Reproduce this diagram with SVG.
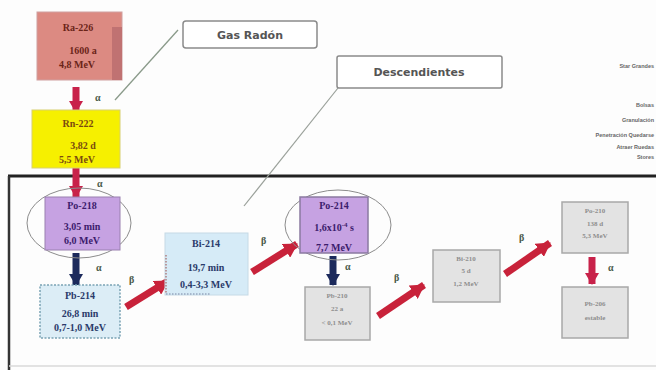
<svg xmlns="http://www.w3.org/2000/svg" width="656" height="370" viewBox="0 0 656 370">
<defs>
<style>
.bt{font-family:"Liberation Serif","Times New Roman",serif;font-weight:bold;font-size:10px;text-anchor:middle}
.gt{font-family:"Liberation Serif","Times New Roman",serif;font-weight:bold;font-size:7px;text-anchor:middle;fill:#8e8e8e}
.lbl{font-family:"Liberation Serif","Times New Roman",serif;font-weight:bold;font-size:10px;fill:#4a5a4a}
.tag{font-family:"DejaVu Sans","Noto Sans",sans-serif;font-weight:bold;font-size:11px;fill:#555;text-anchor:middle}
.tagbox{fill:#fff;stroke:#8a8a8a;stroke-width:1.5}
.gray{fill:#e3e3e3;stroke:#a8a8a8;stroke-width:1.5}
.ell{fill:none;stroke:#8c8c8c;stroke-width:1}
.side{font-family:"Liberation Sans",Arial,sans-serif;font-weight:bold;font-size:5.5px;fill:#666;text-anchor:end}
.red{stroke:#c8223a;stroke-width:7;fill:none}
.navy{stroke:#1c2a5c;stroke-width:7;fill:none}
.crim{stroke:#c8224a;stroke-width:7;fill:none}
</style>
<marker id="hr" markerUnits="userSpaceOnUse" markerWidth="16" markerHeight="16" refX="13" refY="8" orient="auto"><path d="M0,0 L14,8 L0,16 z" fill="#c8223a"/></marker>
<marker id="hn" markerUnits="userSpaceOnUse" markerWidth="16" markerHeight="14" refX="11" refY="7" orient="auto"><path d="M0,0 L12,7 L0,14 z" fill="#1c2a5c"/></marker>
<marker id="hc" markerUnits="userSpaceOnUse" markerWidth="16" markerHeight="14" refX="11" refY="7" orient="auto"><path d="M0,0 L12,7 L0,14 z" fill="#c8224a"/></marker>
</defs>
<rect width="656" height="370" fill="#fdfdfd"/>

<!-- frame -->
<g id="frame">
<line x1="8" y1="176" x2="656" y2="176" stroke="#222" stroke-width="3"/>
<line x1="9" y1="176" x2="9" y2="370" stroke="#333" stroke-width="2.5"/>
<line x1="9" y1="366" x2="656" y2="366" stroke="#d8d8d8" stroke-width="1.5"/>
</g>

<!-- side texts -->
<g id="side-text">
<text class="side" x="654" y="68">Star Grandes</text>
<text class="side" x="654" y="107" fill="#999">Bolsas</text>
<text class="side" x="654" y="122">Granulación</text>
<text class="side" x="654" y="137">Penetración Quedarse</text>
<text class="side" x="654" y="149">Atraer Ruedas</text>
<text class="side" x="654" y="159">Stores</text>
</g>

<!-- connectors -->
<g id="connectors">
<line x1="115" y1="100" x2="178" y2="30" stroke="#8a9a8a" stroke-width="1.3"/>
<line x1="338" y1="88" x2="244" y2="206" stroke="#9aa09a" stroke-width="1.2"/>
<line class="crim" x1="76" y1="87" x2="76" y2="112" marker-end="url(#hc)"/>
<line class="crim" x1="76" y1="167" x2="76" y2="197" marker-end="url(#hc)"/>
<line class="navy" x1="76" y1="253" x2="76" y2="285" marker-end="url(#hn)"/>
<line class="red" x1="126" y1="307" x2="168" y2="281" marker-end="url(#hr)"/>
<line class="red" x1="252" y1="272" x2="297" y2="244" marker-end="url(#hr)"/>
<line class="navy" x1="333" y1="256" x2="333" y2="285" marker-end="url(#hn)"/>
<line class="red" x1="378" y1="316" x2="424" y2="285" marker-end="url(#hr)"/>
<line class="red" x1="505" y1="274" x2="550" y2="243" marker-end="url(#hr)"/>
<line class="crim" x1="592" y1="257" x2="592" y2="284" marker-end="url(#hc)"/>
<text class="lbl" x="95" y="101">α</text>
<text class="lbl" x="97" y="187">α</text>
<text class="lbl" x="96" y="271">α</text>
<text class="lbl" x="129" y="283">β</text>
<text class="lbl" x="261" y="244">β</text>
<text class="lbl" x="345" y="270">α</text>
<text class="lbl" x="394" y="281">β</text>
<text class="lbl" x="519" y="241">β</text>
<text class="lbl" x="608" y="271">α</text>
</g>

<g id="gas-radon">
<rect class="tagbox" x="183" y="21" width="134" height="27" rx="3"/>
<text class="tag" x="250" y="39">Gas Radón</text>
</g>
<g id="descendientes">
<rect class="tagbox" x="337" y="56" width="165" height="32" rx="2"/>
<text class="tag" x="419" y="76">Descendientes</text>
</g>

<g id="ra226">
<rect x="37" y="12" width="85" height="68" fill="#dc8a82" stroke="#d0a0a0" stroke-width="1"/>
<rect x="112" y="27" width="10" height="53" fill="#c07272"/>
<text class="bt" x="78" y="31" fill="#6b2418">Ra-226</text>
<text class="bt" x="83" y="54" fill="#6b2418">1600 a</text>
<text class="bt" x="77" y="68" fill="#6b2418">4,8  MeV</text>
</g>

<g id="rn222">
<rect x="32" y="110" width="88" height="58" fill="#f6f000" stroke="#d8d070" stroke-width="1"/>
<text class="bt" x="78" y="127" fill="#7a4a10">Rn-222</text>
<text class="bt" x="83" y="149" fill="#7a4a10">3,82 d</text>
<text class="bt" x="77" y="163" fill="#7a4a10">5,5  MeV</text>
</g>

<g id="po218">
<ellipse class="ell" cx="79" cy="223" rx="52" ry="35"/>
<rect x="45" y="197" width="75" height="53" fill="#c6a2e2" stroke="#9a80b0" stroke-width="1"/>
<text class="bt" x="82" y="209" fill="#3c1c6c">Po-218</text>
<text class="bt" x="82" y="230" fill="#3c1c6c">3,05  min</text>
<text class="bt" x="82" y="244" fill="#3c1c6c">6,0  MeV</text>
</g>

<g id="pb214">
<rect x="40" y="285" width="80" height="53" fill="#dcedf6" stroke="#7aa2b4" stroke-width="1.5" stroke-dasharray="2,1.5"/>
<text class="bt" x="80" y="299" fill="#2a3a6a">Pb-214</text>
<text class="bt" x="80" y="317" fill="#2a3a6a">26,8  min</text>
<text class="bt" x="80" y="331" fill="#2a3a6a">0,7-1,0   MeV</text>
</g>

<g id="bi214">
<rect x="165" y="233" width="83" height="62" fill="#d6ebf7" stroke="#c6dae6" stroke-width="1"/>
<line x1="166" y1="255" x2="166" y2="294" stroke="#b08080" stroke-width="1.5" stroke-dasharray="1.5,1.5"/>
<line x1="166" y1="294" x2="210" y2="294" stroke="#98a8c0" stroke-width="1.5" stroke-dasharray="1.5,1.5"/>
<text class="bt" x="206" y="247" fill="#2a3a6a">Bi-214</text>
<text class="bt" x="206" y="271" fill="#2a3a6a">19,7  min</text>
<text class="bt" x="206" y="288" fill="#2a3a6a">0,4-3,3  MeV</text>
</g>

<g id="po214">
<ellipse class="ell" cx="338" cy="225" rx="53" ry="35"/>
<rect x="300" y="197" width="68" height="56" fill="#c6a2e2" stroke="#8a7aa0" stroke-width="1.5"/>
<text class="bt" x="334" y="209" fill="#3c1c6c">Po-214</text>
<text class="bt" x="334" y="231" fill="#3c1c6c">1,6x10<tspan dy="-4" font-size="7">-4</tspan><tspan dy="4"> s</tspan></text>
<text class="bt" x="334" y="251" fill="#3c1c6c">7,7 MeV</text>
</g>

<g id="pb210">
<rect class="gray" x="305" y="287" width="65" height="53"/>
<text class="gt" x="337" y="298">Pb-210</text>
<text class="gt" x="337" y="311">22 a</text>
<text class="gt" x="337" y="325">&lt; 0,1  MeV</text>
</g>

<g id="bi210">
<rect class="gray" x="433" y="250" width="67" height="52"/>
<text class="gt" x="466" y="261">Bi-210</text>
<text class="gt" x="466" y="273">5 d</text>
<text class="gt" x="466" y="286">1,2 MeV</text>
</g>

<g id="po210">
<rect class="gray" x="562" y="202" width="66" height="51"/>
<text class="gt" x="595" y="213">Po-210</text>
<text class="gt" x="595" y="226">138 d</text>
<text class="gt" x="595" y="238">5,3 MeV</text>
</g>

<g id="pb206">
<rect class="gray" x="562" y="287" width="66" height="51"/>
<text class="gt" x="595" y="306">Pb-206</text>
<text class="gt" x="595" y="320">estable</text>
</g>
</svg>
